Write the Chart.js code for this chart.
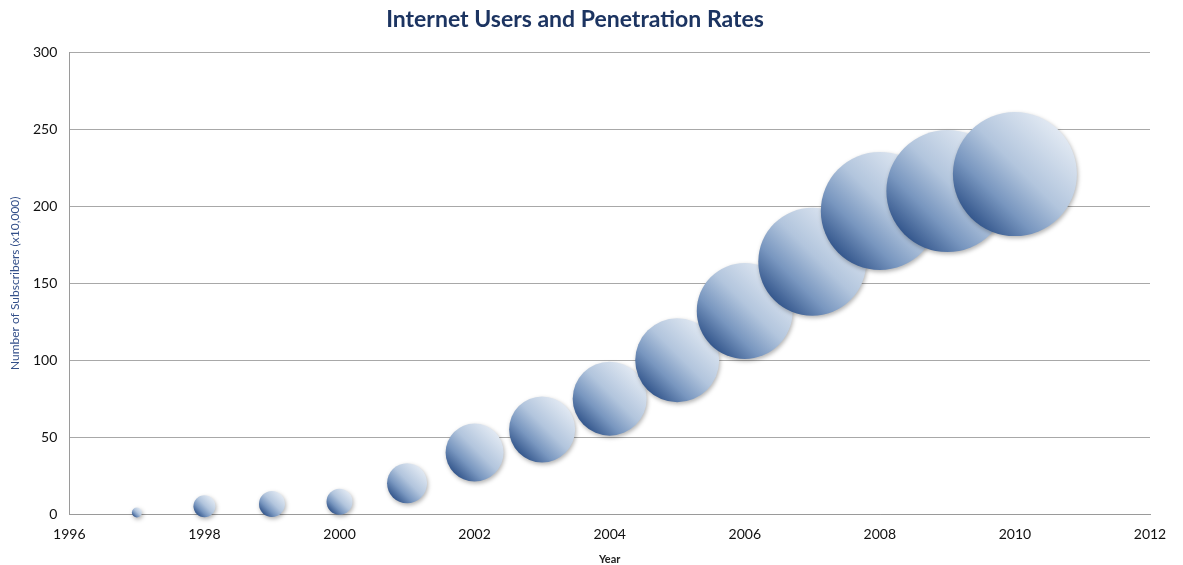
<!DOCTYPE html>
<html>
<head>
<meta charset="utf-8">
<script src="https://cdn.jsdelivr.net/npm/chart.js@4"></script>
<style>
  html, body { margin: 0; padding: 0; background: #fff; }
  #wrap { width: 1183px; height: 565px; position: relative; }
</style>
</head>
<body>
<div id="wrap"><canvas id="c"></canvas></div>
<script>
// values
const years = [1997, 1998, 1999, 2000, 2001, 2002, 2003, 2004, 2005, 2006, 2007, 2008, 2009, 2010];
const subscribers = [1, 5, 6.5, 8, 20, 40, 55, 75, 100, 132, 164, 197, 210, 221];
const bubbleSizes = [5, 11, 13, 13, 20, 29, 33, 37, 42, 48, 54, 59, 61, 62];
const xTicks = [1996, 1998, 2000, 2002, 2004, 2006, 2008, 2010, 2012];
const yTicks = [0, 50, 100, 150, 200, 250, 300];

const FONT = 'Lato, "Open Sans", sans-serif';

const points = years.map((y, i) => ({ x: y, y: subscribers[i], r: bubbleSizes[i] }));

const bubbleFill = c => {
  const chart = c.chart;
  if (!chart.chartArea || !c.raw) return '#8ea9cc';
  const x = chart.scales.x.getPixelForValue(c.raw.x);
  const y = chart.scales.y.getPixelForValue(c.raw.y);
  const r = c.raw.r;
  const g = chart.ctx.createLinearGradient(x - r * 0.75, y + r * 0.75, x + r * 0.75, y - r * 0.75);
  g.addColorStop(0, '#2d5087');
  g.addColorStop(0.28, '#7896bf');
  g.addColorStop(0.55, '#b2c5dd');
  g.addColorStop(1, '#e4ebf4');
  return g;
};

const shadow = {
  id: 'shadow',
  beforeDatasetDraw(chart) {
    const ctx = chart.ctx;
    ctx.save();
    ctx.shadowColor = 'rgba(0,0,0,0.3)';
    ctx.shadowBlur = 4;
    ctx.shadowOffsetX = 1;
    ctx.shadowOffsetY = 2;
  },
  afterDatasetDraw(chart) {
    chart.ctx.restore();
  }
};

new Chart(document.getElementById('c'), {
  type: 'bubble',
  data: {
    datasets: [{
      label: 'Subscribers',
      data: points,
      backgroundColor: bubbleFill,
      borderWidth: 0,
      hoverBorderWidth: 0,
      clip: false
    }]
  },
  options: {
    responsive: true,
    maintainAspectRatio: false,
    animation: false,
    layout: { autoPadding: false, padding: { left: 0, right: 33, top: 0, bottom: 0 } },
    plugins: {
      legend: { display: false },
      tooltip: { enabled: false },
      title: {
        display: true,
        text: 'Internet Users and Penetration Rates',
        color: '#1c3461',
        font: { family: FONT, size: 23, weight: 'bold' },
        padding: { top: 6, bottom: 19 }
      }
    },
    scales: {
      x: {
        type: 'linear',
        min: 1996,
        max: 2012,
        afterBuildTicks: a => { a.ticks = xTicks.map(v => ({ value: v })); },
        grid: { display: false, drawTicks: false },
        border: { color: '#9a9a9a', width: 1 },
        ticks: {
          color: '#111',
          font: { family: FONT, size: 14, lineHeight: 1 },
          padding: 13,
          callback: v => String(v)
        },
        title: {
          display: true,
          text: 'Year',
          color: '#222',
          font: { family: FONT, size: 11, weight: 'bold', lineHeight: 1 },
          padding: { top: 0, bottom: 0 }
        }
      },
      y: {
        min: 0,
        max: 300,
        afterBuildTicks: a => { a.ticks = yTicks.map(v => ({ value: v })); },
        grid: { color: '#a8a8a8', drawTicks: false, lineWidth: 1 },
        border: { color: '#9a9a9a', width: 1 },
        ticks: {
          color: '#111',
          font: { family: FONT, size: 14 },
          padding: 12
        },
        title: {
          display: true,
          text: 'Number of Subscribers (x10,000)',
          color: '#34508a',
          font: { family: FONT, size: 12, lineHeight: 1 },
          padding: { top: 9, bottom: 0 }
        }
      }
    }
  },
  plugins: [shadow]
});
</script>
</body>
</html>
